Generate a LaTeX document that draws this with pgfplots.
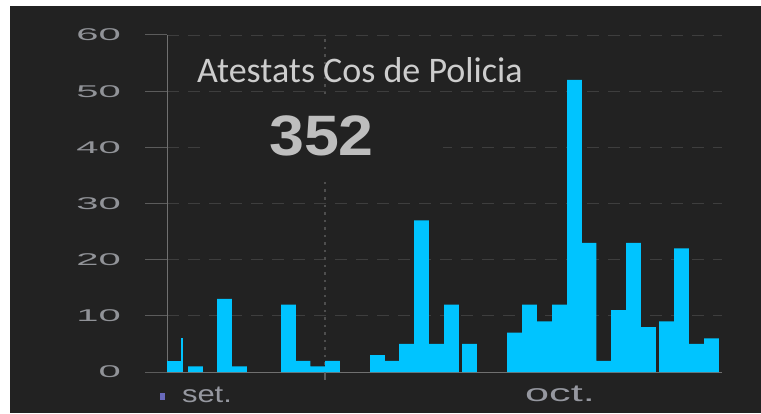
\documentclass[border=0pt]{standalone}
\usepackage{fontspec}
\setmainfont{Carlito}
\newfontfamily\lib{Liberation Sans}
\usepackage{graphicx}
\usepackage{pgfplots}
\pgfplotsset{compat=1.18}
\definecolor{bg}{RGB}{34,34,34}
\definecolor{barc}{RGB}{0,196,255}
\definecolor{gridc}{RGB}{62,62,62}
\definecolor{vgridc}{RGB}{78,78,78}
\definecolor{axisc}{RGB}{112,112,112}
\definecolor{tickc}{RGB}{92,92,92}
\definecolor{tlab}{RGB}{145,147,152}
\definecolor{labc}{RGB}{150,152,160}
\definecolor{titc}{RGB}{205,205,205}
\definecolor{numc}{RGB}{190,190,190}
\newcommand\tk[1]{\scalebox{2.35}[1]{\lib\fontsize{17bp}{17bp}\selectfont #1}}
\begin{document}
\begin{tikzpicture}[x=1bp,y=1bp]
\fill[white] (0,0) rectangle (761,413);
\fill[bg] (10,0) rectangle (761,407);
\begin{axis}[
  at={(167bp,41bp)}, anchor=south west,
  scale only axis, width=555bp, height=337bp,
  xmin=0, xmax=555, ymin=0, ymax=60,
  axis x line=bottom, axis y line=left,
  axis line style={-},
  x axis line style={draw=axisc},
  y axis line style={draw=axisc},
  ytick={0,10,...,60},
  yticklabels={\tk{0},\tk{10},\tk{20},\tk{30},\tk{40},\tk{50},\tk{60}},
  yticklabel style={anchor=east, inner sep=0pt, text=tlab, xshift=-24bp},
  xtick=\empty,
  tick align=outside, major tick length=22bp,
  ytick style={draw=tickc, line width=1bp},
  ymajorgrids,
  major grid style={draw=gridc, dash pattern=on 12bp off 9bp, line width=0.9bp},
  extra x ticks={158}, extra x tick labels={},
  extra x tick style={grid=major, major grid style={draw=vgridc, dash pattern=on 2.5bp off 5bp, line width=1.3bp}, major tick length=8bp, tick style={draw=tickc, line width=1.4bp}},
  ybar, bar shift=0pt, bar width=14.7,
]
\addplot[fill=barc, draw=none, bar width=16] coordinates {(8,2)};
\addplot[fill=barc, draw=none, bar width=2.6] coordinates {(15,6)};
\addplot[fill=barc, draw=none] coordinates {
(28.5,1) (57.5,13) (72.5,1) (121.5,12) (136,2) (150.5,1) (165.5,2)
(210.5,3) (225,2) (239.5,5) (254.5,27) (269.5,5) (284.5,12) (302.5,5)
(347.5,7) (362.5,12) (377.5,9) (392.5,12) (407.5,52) (422,23) (436.5,2)
(451.5,11) (466.5,23) (481.5,8) (499.5,9) (514.5,22) (529.5,5) (544.5,6)
};
\end{axis}
\node[fill=bg, minimum width=243bp, minimum height=82bp, inner sep=0pt, text=numc]
  at (321.5,277) {\scalebox{1.1}[1]{\lib\bfseries\fontsize{57bp}{57bp}\selectfont 352}};
\node[anchor=base west, inner sep=0pt, text=titc] at (197,331)
  {\fontsize{36bp}{36bp}\selectfont Atestats Cos de Policia};
\node[anchor=base, inner sep=0pt, text=labc] at (207,11)
  {\scalebox{1.29}[1]{\lib\fontsize{24bp}{24bp}\selectfont set.}};
\node[anchor=base, inner sep=0pt, text=labc] at (560,12)
  {\scalebox{1.8}[1]{\lib\fontsize{24bp}{24bp}\selectfont oct.}};
\fill[labc!70!blue] (160,13) rectangle (165,20);
\end{tikzpicture}
\end{document}
